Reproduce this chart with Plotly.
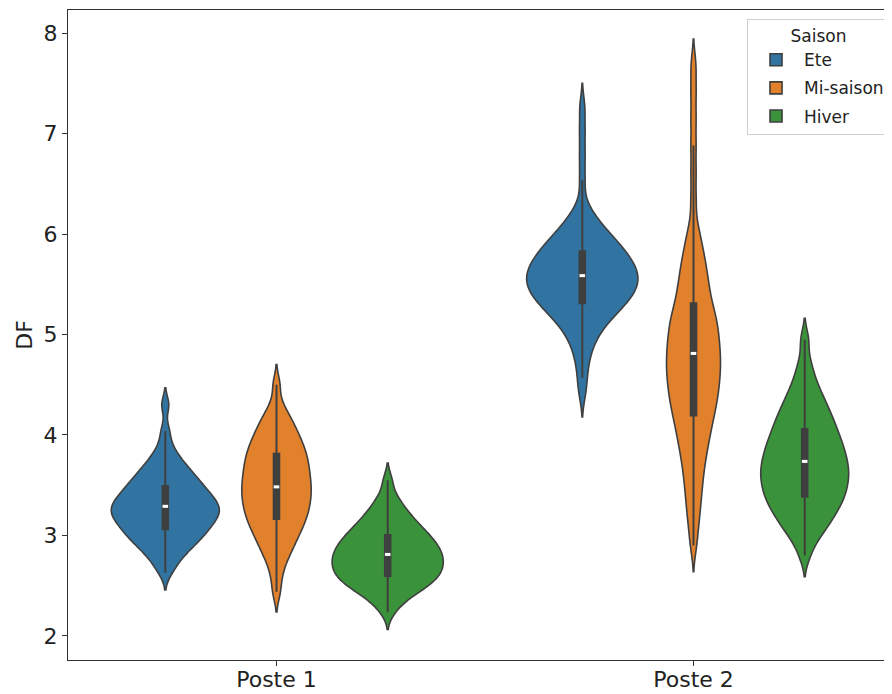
import plotly.graph_objects as go

postes = ["Poste 1", "Poste 2"]
saisons = ["Ete", "Mi-saison", "Hiver"]

# DF samples, one list per (saison, poste)
ete_p1 = [2.629, 2.709, 2.763, 2.807, 2.842, 2.872, 2.898, 2.922, 2.944, 2.965,
          2.985, 3.004, 3.022, 3.040, 3.057, 3.073, 3.089, 3.105, 3.120, 3.135,
          3.150, 3.164, 3.178, 3.192, 3.205, 3.218, 3.231, 3.244,
          3.256, 3.2685, 3.281, 3.294, 3.307, 3.321, 3.335, 3.349, 3.363, 3.378,
          3.393, 3.409, 3.425, 3.442, 3.459, 3.477, 3.496, 3.515, 3.535, 3.557,
          3.579, 3.603, 3.629, 3.656, 3.686, 3.722, 3.764, 3.818, 3.897, 4.04, 4.30]
ete_p2 = [4.42, 4.566, 4.695, 4.7921, 4.8652, 4.9241, 4.9747, 5.0176, 5.0536, 5.0852,
          5.1137, 5.1399, 5.1639, 5.1858, 5.2061, 5.2251, 5.2431, 5.2601, 5.2764, 5.292,
          5.307, 5.3214, 5.3354, 5.3488, 5.3621, 5.3752, 5.3881, 5.4009, 5.4135, 5.426,
          5.4383, 5.4505, 5.4625, 5.4744, 5.4862, 5.4979, 5.5095, 5.5209, 5.5322, 5.5434,
          5.5545, 5.5655, 5.5766, 5.5878, 5.5992, 5.6107, 5.6223, 5.634, 5.6459, 5.6579,
          5.6701, 5.6824, 5.6949, 5.7075, 5.7203, 5.7333, 5.7465, 5.7598, 5.7734, 5.7872,
          5.8014, 5.816, 5.831, 5.8465, 5.8625, 5.879, 5.8962, 5.9141, 5.9328, 5.9524,
          5.9731, 5.9957, 6.0201, 6.0466, 6.0761, 6.1097, 6.15, 6.203, 6.285,
          6.54, 6.78, 7.02, 7.26]
mi_p1 = [2.44, 2.604, 2.715, 2.787, 2.843, 2.890, 2.932, 2.970, 3.005, 3.038,
         3.069, 3.098, 3.126, 3.152, 3.177, 3.202, 3.226, 3.250, 3.274, 3.297,
         3.320, 3.343, 3.365, 3.387, 3.409,
         3.431, 3.453, 3.475, 3.497, 3.519, 3.541, 3.564, 3.587, 3.610, 3.633,
         3.656, 3.680, 3.704, 3.728, 3.752, 3.776, 3.801, 3.826, 3.852, 3.879,
         3.907, 3.936, 3.967, 4.000, 4.035, 4.073, 4.114, 4.160, 4.216, 4.30, 4.50]
mi_p2 = [2.90, 3.075, 3.195, 3.2972, 3.388, 3.4708, 3.5469, 3.6178, 3.6844, 3.7449,
         3.8003, 3.8519, 3.9003, 3.946, 3.9893, 4.0307, 4.07, 4.1075, 4.1435, 4.1781,
         4.2115, 4.2437, 4.275, 4.3053, 4.3348, 4.3635, 4.3915, 4.4192, 4.4466, 4.4738,
         4.5007, 4.5274, 4.5538, 4.58, 4.6059, 4.6316, 4.6571, 4.6824, 4.7075,
         4.7325, 4.7576, 4.7829, 4.8084, 4.8342, 4.8602, 4.8864, 4.9128, 4.9395, 4.9664,
         4.9936, 5.0211, 5.0489, 5.077, 5.1054, 5.1341, 5.1632, 5.1927, 5.2226, 5.2529,
         5.2913, 5.3304, 5.3703, 5.411, 5.4531, 5.4969, 5.5426, 5.5905, 5.6408, 5.694,
         5.7507, 5.8123, 5.8831, 5.9689, 6.085,
         6.34, 6.61, 6.88, 7.15, 7.42, 7.68]
hiver_p1 = [2.235, 2.319, 2.366, 2.400, 2.428, 2.452, 2.474, 2.494, 2.512, 2.529,
            2.545, 2.560, 2.575, 2.590, 2.605, 2.619, 2.633, 2.647, 2.661, 2.675,
            2.689, 2.703, 2.716, 2.730, 2.743,
            2.757, 2.770, 2.784, 2.798, 2.812, 2.826, 2.840, 2.854, 2.868, 2.883,
            2.898, 2.913, 2.929, 2.945, 2.961, 2.978, 2.995, 3.013, 3.032, 3.052,
            3.073, 3.096, 3.120, 3.146, 3.175, 3.207, 3.243, 3.285, 3.338, 3.408, 3.55]
hiver_p2 = [2.80, 2.9289, 2.9937, 3.0441, 3.0867, 3.1244, 3.1587, 3.1907, 3.2207, 3.2491,
            3.2761, 3.3019, 3.3267, 3.3505, 3.3734, 3.396, 3.4184, 3.4406, 3.4625, 3.4842,
            3.5057, 3.527, 3.548, 3.5688, 3.5894, 3.6098,
            3.6302, 3.6506, 3.6713, 3.6922, 3.7133, 3.7346, 3.7562, 3.778, 3.8001, 3.8224,
            3.845, 3.8679, 3.8914, 3.9155, 3.9401, 3.9654, 3.9913, 4.018, 4.0455, 4.0738,
            4.1031, 4.1335, 4.1651, 4.198, 4.2328, 4.27, 4.3101, 4.354, 4.4029, 4.4591,
            4.5269, 4.6134, 4.737, 4.95]

data = {
    ("Ete", "Poste 1"): ete_p1, ("Ete", "Poste 2"): ete_p2,
    ("Mi-saison", "Poste 1"): mi_p1, ("Mi-saison", "Poste 2"): mi_p2,
    ("Hiver", "Poste 1"): hiver_p1, ("Hiver", "Poste 2"): hiver_p2,
}
bandwidths = {
    ("Ete", "Poste 1"): 0.085, ("Ete", "Poste 2"): 0.12,
    ("Mi-saison", "Poste 1"): 0.10, ("Mi-saison", "Poste 2"): 0.13,
    ("Hiver", "Poste 1"): 0.085, ("Hiver", "Poste 2"): 0.105,
}
colors = {"Ete": "#3274a1", "Mi-saison": "#e1812c", "Hiver": "#3a923a"}
edge = "#3f3f3f"

fig = go.Figure()
for s in saisons:
    for p in postes:
        vals = data[(s, p)]
        fig.add_trace(go.Violin(
            x=[p] * len(vals),
            y=vals,
            name=s,
            legendgroup=s,
            showlegend=(p == postes[0]),
            offsetgroup=s,
            alignmentgroup="all",
            scalegroup=p,
            scalemode="width",
            bandwidth=bandwidths[(s, p)],
            spanmode="soft",
            points=False,
            fillcolor=colors[s],
            opacity=1,
            line=dict(color=edge, width=1.6),
            box=dict(visible=True, width=0.05, fillcolor=edge,
                     line=dict(color=edge, width=2)),
            meanline=dict(visible=True, color="white", width=3),
            hoveron="violins",
        ))

fig.update_layout(
    width=884, height=686,
    margin=dict(l=60, r=0, t=2, b=34),
    paper_bgcolor="white", plot_bgcolor="white",
    violinmode="group", violingap=0.2, violingroupgap=0,
    font=dict(family="DejaVu Sans", color="#222"),
    legend=dict(
        title=dict(text="Saison", side="top center", font=dict(size=17)),
        x=0.9976, xanchor="right", y=0.986, yanchor="top",
        bordercolor="#d0d0d0", borderwidth=1, bgcolor="white",
        font=dict(size=17), tracegroupgap=3, itemwidth=46,
    ),
)
fig.update_xaxes(
    categoryorder="array", categoryarray=postes, range=[-0.5, 1.476],
    showline=True, linecolor="#333", linewidth=1, mirror=True,
    ticks="outside", ticklen=5, tickcolor="#333",
    tickfont=dict(size=22), ticklabelstandoff=-5,
    showgrid=False, zeroline=False,
)
fig.update_yaxes(
    range=[1.761, 8.229], tickvals=[2, 3, 4, 5, 6, 7, 8],
    title=dict(text="DF", font=dict(size=22), standoff=4),
    showline=True, linecolor="#333", linewidth=1, mirror=True,
    ticks="outside", ticklen=5, tickcolor="#333",
    tickfont=dict(size=22), showgrid=False, zeroline=False,
)

fig.write_html("out.html")
